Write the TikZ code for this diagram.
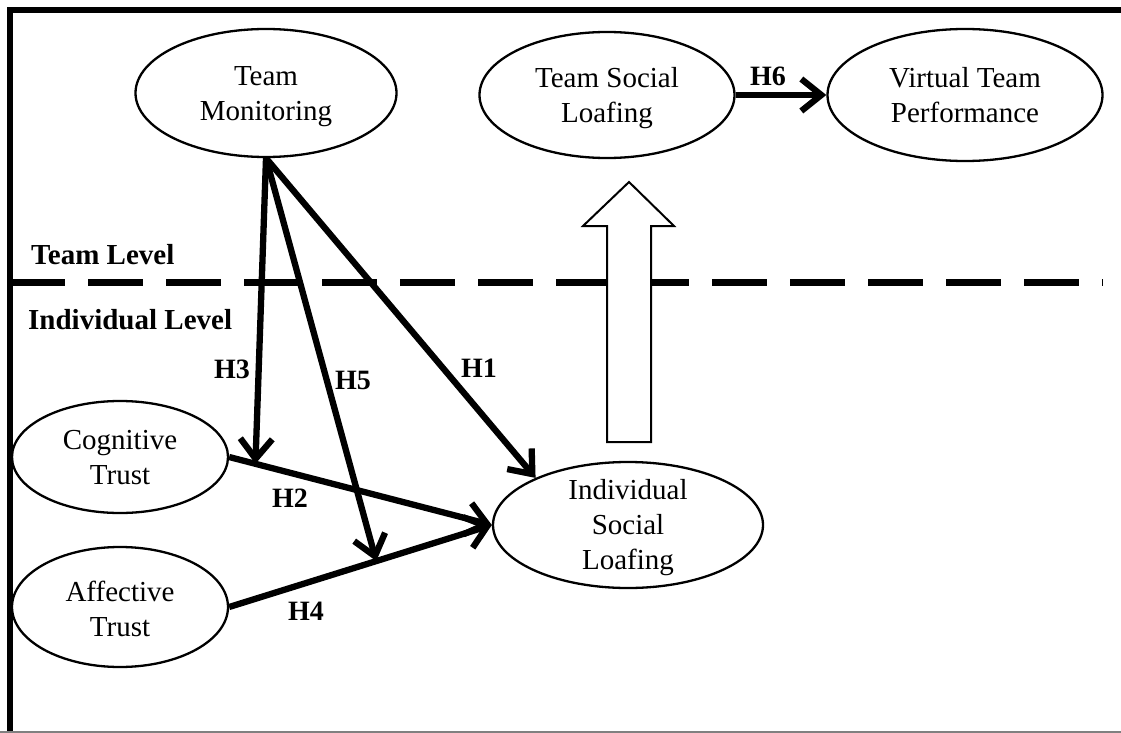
\documentclass[tikz,border=0pt]{standalone}
\usepackage{fontspec}
\setmainfont{Liberation Serif}
\usetikzlibrary{arrows.meta,shapes.geometric,calc}
\begin{document}
\begin{tikzpicture}[x=1pt,y=-1pt,
  ell/.style={draw, ellipse, line width=2.3pt, inner sep=0pt},
  etxt/.style={align=center, font=\fontsize{29}{35}\selectfont, inner sep=0pt},
  lvl/.style={font=\bfseries\fontsize{29}{34}\selectfont, anchor=base west, inner sep=0pt},
  hlab/.style={font=\bfseries\fontsize{28}{30}\selectfont, inner sep=0pt},
  hyp/.style={line width=6.3pt, -{Straight Barb[length=20pt,width=32pt]}},
]
\useasboundingbox (0,0) rectangle (1121,733);
% frame
\draw[line width=6pt] (10,740) -- (10,10) -- (1130,10);
\draw[gray, line width=2pt] (0,732) -- (1121,732);
% level divider
\draw[line width=7pt, dash pattern=on 55pt off 23pt] (10,282) -- (1103,282);
\node[lvl] (TL) at (31,264) {Team Level};
\node[lvl] (IL) at (28,329) {Individual Level};
% ellipses
\node[ell, minimum width=261pt, minimum height=128pt] (TM)  at (266,93)  {};
\node[ell, minimum width=255pt, minimum height=126pt] (TSL) at (607,95)  {};
\node[ell, minimum width=275pt, minimum height=132pt] (VTP) at (965,95)  {};
\node[ell, minimum width=216pt, minimum height=112pt] (CT)  at (120,457) {};
\node[ell, minimum width=216pt, minimum height=120pt] (AT)  at (120,607) {};
\node[ell, minimum width=270pt, minimum height=126pt] (ISL) at (628,525) {};
% texts
\node[etxt] (TMt)  at (266,97)  {Team\\Monitoring};
\node[etxt] (TSLt) at (607,98)  {Team Social\\Loafing};
\node[etxt] (VTPt) at (965,95)  {Virtual Team\\Performance};
\node[etxt] (CTt)  at (120,458) {Cognitive\\Trust};
\node[etxt] (ATt)  at (120,609) {Affective\\Trust};
\node[etxt] (ISLt) at (628,528) {Individual\\Social\\Loafing};
% aggregation arrow
\draw[line width=2pt, fill=white] (607,442) -- (607,226) -- (583,226) -- (629,182)
  -- (674,226) -- (651,226) -- (651,442) -- cycle;
% hypotheses
\coordinate (p3) at ($(CT.east)!0.1!(ISL.west)$);
\coordinate (p5) at ($(AT.east)!0.56!(ISL.west)$);
\draw[hyp] (CT.east) -- (ISL.west);
\draw[hyp] (AT.east) -- (ISL.west);
\draw[hyp] (TM.south) -- (p3);
\draw[hyp] (TM.south) -- (p5);
\draw[hyp] (TM.south) -- (ISL.153);
\draw[hyp] (TSL.east) -- (VTP.west);
\node[hlab] (h3) at (232,369) {H3};
\node[hlab] (h5) at (353,380) {H5};
\node[hlab] (h1) at (479,368) {H1};
\node[hlab] (h2) at (290,498) {H2};
\node[hlab] (h4) at (306,611) {H4};
\node[hlab] (h6) at (768,76)  {H6};
\end{tikzpicture}
\end{document}
